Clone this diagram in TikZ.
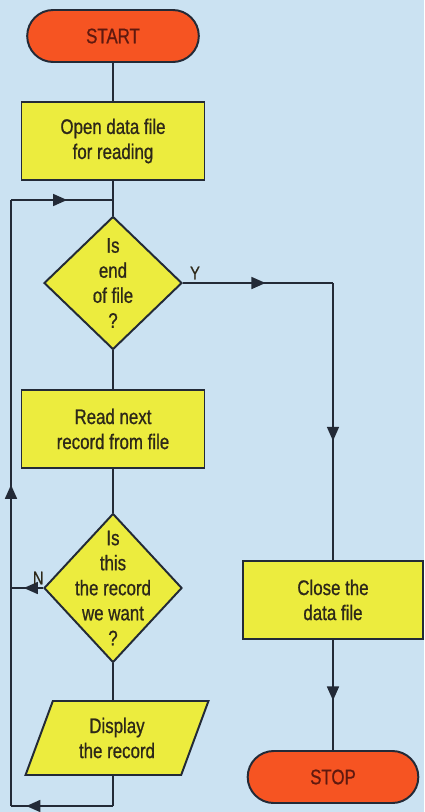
\documentclass[tikz,border=0pt]{standalone}
\usepackage{fontspec}
\setmainfont{Liberation Sans}[FakeStretch=0.8,FakeBold=0.8]
\usetikzlibrary{arrows.meta,shapes.geometric,shapes.misc,decorations.markings}

\definecolor{bgblue}{RGB}{203,226,242}
\definecolor{boxyellow}{RGB}{236,236,62}
\definecolor{termred}{RGB}{246,84,34}
\definecolor{inkline}{RGB}{35,42,55}
\definecolor{inktext}{RGB}{45,40,25}
\definecolor{termtext}{RGB}{95,25,15}

\def\px{0.025cm}
\newcommand{\flowfont}{\fontsize{15}{17.8}\selectfont}

\tikzset{
  flowline/.style={line width=1.3pt, draw=inkline},
  arrowat/.style={postaction={decorate, decoration={markings,
      mark=at position #1 with {\arrow{Triangle[length=10pt,width=8.5pt]}}}}},
  procbox/.style={rectangle, draw=inkline, line width=1.4pt, fill=boxyellow,
      minimum width=183*\px, minimum height=78*\px, align=center,
      text=inktext, font=\flowfont},
  termnode/.style={rounded rectangle, draw=inkline, line width=1.4pt, fill=termred,
      minimum width=181*\px, minimum height=52*\px, text=termtext, font=\flowfont},
  decnode/.style={diamond, draw=inkline, line width=1.4pt, fill=boxyellow,
      minimum width=138*\px, inner sep=0pt},
  dectext/.style={align=center, text=inktext, font=\flowfont},
  iobox/.style={trapezium, trapezium left angle=70, trapezium right angle=110,
      trapezium stretches=true, draw=inkline, line width=1.4pt, fill=boxyellow,
      minimum width=184*\px, minimum height=74*\px, align=center,
      text=inktext, font=\flowfont},
  flowlabel/.style={text=inktext, font=\fontsize{13}{15}\selectfont, inner sep=2pt}
}

\begin{document}
\begin{tikzpicture}[x=\px, y=-\px]

  % background
  \fill[bgblue] (0,0) rectangle (424,812);
  \useasboundingbox (0,0) rectangle (424,812);

  % main column
  \node[termnode] (start) at (113,36) {START};
  \node[procbox] (open) at (113,141) {Open data file\\for reading};
  \node[decnode, minimum height=133*\px,
        label={[dectext]center:Is\\end\\of file\\?}] (eof) at (113,283) {};
  \node[procbox] (read) at (113,429) {Read next\\record from file};
  \node[decnode, minimum height=149*\px,
        label={[dectext]center:Is\\this\\the record\\we want\\?}] (want) at (113,588) {};
  \node[iobox] (show) at (117,738) {Display\\the record};

  % right column
  \node[procbox, minimum width=180*\px] (close) at (333,600) {Close the\\data file};
  \node[termnode, minimum width=180*\px] (stop) at (333,777) {STOP};

  % loop corners
  \coordinate (join) at (113,200);
  \coordinate (looptop) at (11,200);
  \coordinate (loopbot) at (11,806);
  \coordinate (showout) at (113,806);
  \coordinate (ycorner) at (333,283);

  % straight flow
  \draw[flowline] (start) -- (open);
  \draw[flowline] (open) -- (eof);
  \draw[flowline] (eof) -- (read);
  \draw[flowline] (read) -- (want);
  \draw[flowline] (want.south) -- (want.south |- show.north);
  \draw[flowline] (show.south -| want.south) -- (showout);

  % loop back to the test
  \draw[flowline, arrowat=0.85] (showout) -- (loopbot);
  \draw[flowline, arrowat=0.53] (loopbot) -- (looptop);
  \draw[flowline, arrowat=0.55] (looptop) -- (join);
  \draw[flowline, arrowat=0.6] (want.west) -- (want.west -| looptop)
    node[flowlabel, pos=0.15, above] {N};

  % end of file branch
  \draw[flowline, arrowat=0.55] (eof.east) -- (ycorner)
    node[flowlabel, pos=0.08, above] {Y};
  \draw[flowline, arrowat=0.57] (ycorner) -- (close);
  \draw[flowline, arrowat=0.55] (close) -- (stop);

\end{tikzpicture}
\end{document}
